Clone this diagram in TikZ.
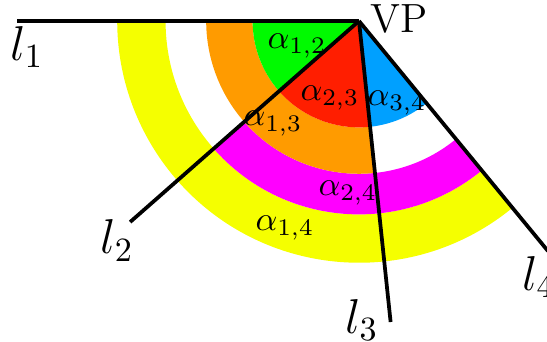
\documentclass[tikz,border=0pt]{standalone}
\usepackage{amsmath}
\usepackage{tikz}
\usetikzlibrary{positioning, calc}

\definecolor{sgreen}{RGB}{0,250,0}
\definecolor{sred}{RGB}{255,30,0}
\definecolor{sblue}{RGB}{0,160,255}
\definecolor{sorange}{RGB}{255,155,0}
\definecolor{smagenta}{RGB}{255,0,255}
\definecolor{syellow}{RGB}{245,255,0}

\begin{document}
\begin{tikzpicture}[
  ray/.style={line width=1.1pt, black},
  rlbl/.style={font=\Large, inner sep=0pt},
  albl/.style={inner sep=0pt},
]

\useasboundingbox (-3.712, -3.319) rectangle (1.944, 0.217);

% --- Vanishing point and ray ends ---
\coordinate (vp) at (0, 0);
\coordinate (e1) at (180:3.54);
\coordinate (e2) at (221.3:3.15);
\coordinate (e3) at (276.0:3.13);
\coordinate (e4) at (309.4:3.08);

% --- Outer ring: alpha_{1,4} ---
\fill[syellow] (180:2.0) arc[start angle=180, end angle=309.4, radius=2.0]
  -- (309.4:2.5) arc[start angle=309.4, end angle=180, radius=2.5] -- cycle;

% --- Ring: alpha_{2,4} ---
\fill[smagenta] (221.3:1.58) arc[start angle=221.3, end angle=309.4, radius=1.58]
  -- (309.4:2.0) arc[start angle=309.4, end angle=221.3, radius=2.0] -- cycle;

% --- Ring: alpha_{1,3} ---
\fill[sorange] (180:1.1) arc[start angle=180, end angle=276.0, radius=1.1]
  -- (276.0:1.58) arc[start angle=276.0, end angle=180, radius=1.58] -- cycle;

% --- Inner sectors ---
\fill[sgreen] (vp) -- (180:1.1) arc[start angle=180, end angle=221.3, radius=1.1] -- cycle;
\fill[sred] (vp) -- (221.3:1.1) arc[start angle=221.3, end angle=276.0, radius=1.1] -- cycle;
\fill[sblue] (vp) -- (276.0:1.1) arc[start angle=276.0, end angle=309.4, radius=1.1] -- cycle;

% --- Rays ---
\draw[ray] (vp) -- (e1);
\draw[ray] (vp) -- (e2);
\draw[ray] (vp) -- (e3);
\draw[ray] (vp) -- (e4);

% --- Labels ---
\node[anchor=west, inner sep=0pt, font=\large] (vplbl) at (0.114, 0.02) {VP};
\node[rlbl] (l1) at (-3.433, -0.27) {$l_1$};
\node[rlbl] (l2) at (-2.50, -2.27) {$l_2$};
\node[rlbl] (l3) at (0.03, -3.09) {$l_3$};
\node[rlbl] (l4) at (1.86, -2.65) {$l_4$};

\node[albl] (a12) at (-0.641, -0.26) {$\alpha_{1,2}$};
\node[albl] (a23) at (-0.300, -0.80) {$\alpha_{2,3}$};
\node[albl] (a13) at (-0.889, -1.06) {$\alpha_{1,3}$};
\node[albl] (a34) at (0.393, -0.85) {$\alpha_{3,4}$};
\node[albl] (a24) at (-0.115, -1.78) {$\alpha_{2,4}$};
\node[albl] (a14) at (-0.765, -2.14) {$\alpha_{1,4}$};

\end{tikzpicture}
\end{document}
